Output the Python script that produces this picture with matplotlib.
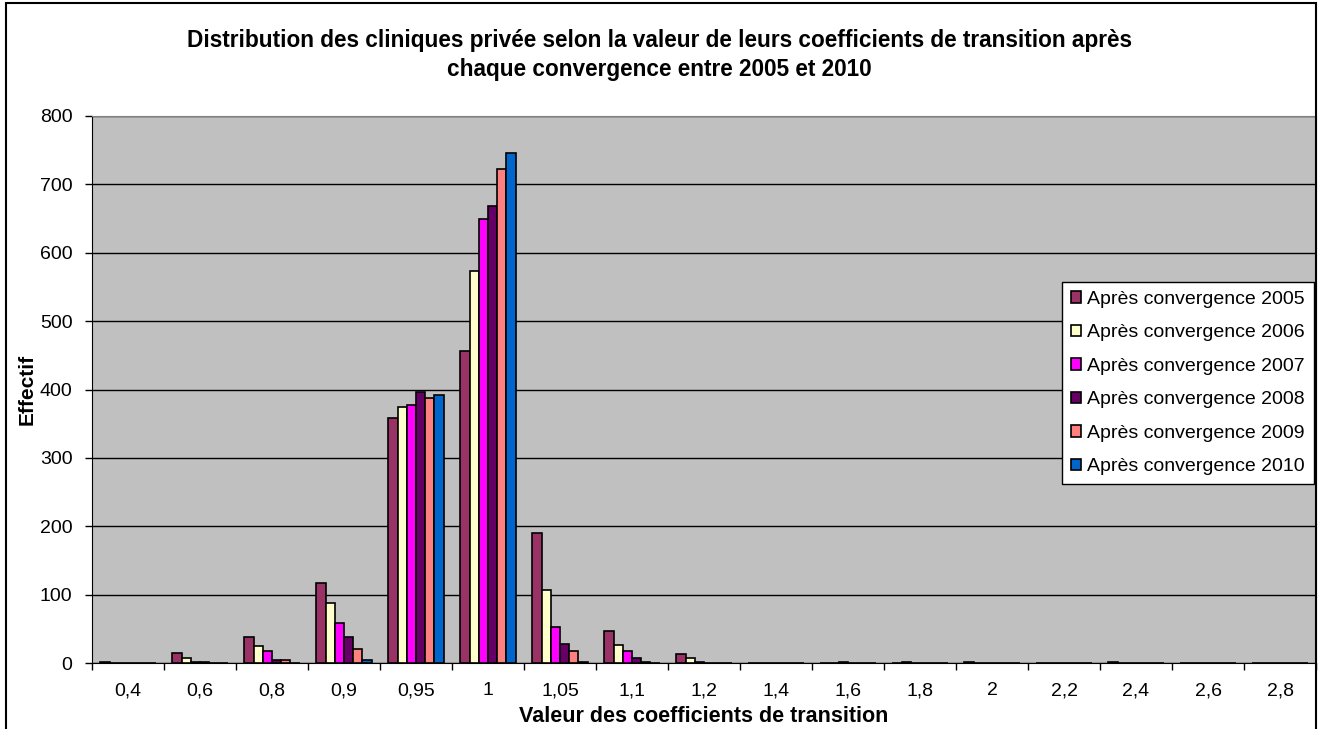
import numpy as np
import matplotlib
matplotlib.use("Agg")
import matplotlib.pyplot as plt
from matplotlib.patches import Rectangle

plt.rcParams["font.family"] = ["Liberation Sans", "DejaVu Sans"]

categories = ["0,4", "0,6", "0,8", "0,9", "0,95", "1", "1,05", "1,1", "1,2",
              "1,4", "1,6", "1,8", "2", "2,2", "2,4", "2,6", "2,8"]
v2005 = [2, 15, 38, 117, 359, 457, 190, 47, 13, 0, 0, 0, 2, 0, 2, 0, 0]
v2006 = [0, 8, 25, 88, 374, 574, 107, 26, 7, 0, 0, 2, 0, 0, 0, 0, 0]
v2007 = [0, 2, 18, 59, 377, 650, 52, 18, 2, 0, 2, 0, 0, 0, 0, 0, 0]
v2008 = [0, 2, 5, 38, 397, 668, 28, 8, 0, 0, 0, 0, 0, 0, 0, 0, 0]
v2009 = [0, 0, 5, 20, 387, 722, 18, 2, 0, 0, 0, 0, 0, 0, 0, 0, 0]
v2010 = [0, 0, 0, 5, 392, 746, 2, 0, 0, 0, 0, 0, 0, 0, 0, 0, 0]

series = [
    ("Après convergence 2005", v2005, "#993366"),
    ("Après convergence 2006", v2006, "#FFFFCC"),
    ("Après convergence 2007", v2007, "#FF00FF"),
    ("Après convergence 2008", v2008, "#660066"),
    ("Après convergence 2009", v2009, "#FF8080"),
    ("Après convergence 2010", v2010, "#0066CC"),
]

W, H = 1319, 729
fig = plt.figure(figsize=(W / 100, H / 100), dpi=100)
ax = fig.add_axes([92 / W, 1 - 663 / H, 1224 / W, 547 / H])
ax.set_facecolor("#C0C0C0")

x = np.arange(len(categories))
width = 0.128
for i, (label, vals, color) in enumerate(series):
    ax.bar(x + (i - 2.5) * width, vals, width, color=color, edgecolor="black",
           linewidth=1.2, label=label, zorder=3)

ax.set_xlim(-0.5, len(categories) - 0.5)
ax.set_ylim(0, 800)
ax.set_yticks(range(0, 801, 100))
ax.grid(axis="y", color="black", linewidth=1, zorder=1)

# category boundaries as tick marks, labels centred under each group
ax.set_xticks(np.arange(-0.5, len(categories), 1))
ax.set_xticklabels([])
ax.set_xticks(x, minor=True)
ax.set_xticklabels(categories, minor=True)
ax.tick_params(axis="x", which="major", length=5, width=1)
ax.tick_params(axis="x", which="minor", length=0, labelsize=14, pad=14)
ax.tick_params(axis="y", length=5, width=1, labelsize=14, pad=9)

for side in ["top", "right"]:
    ax.spines[side].set_color("#808080")
for side in ["left", "bottom"]:
    ax.spines[side].set_color("black")

ax.set_ylabel("Effectif", fontsize=15, fontweight="bold")
ax.yaxis.set_label_coords(-0.0453, 0.5)
ax.set_xlabel("Valeur des coefficients de transition", fontsize=15.5,
              fontweight="bold")
ax.xaxis.set_label_coords(0.5, -0.079)

fig.text(0.5, 1 - 55 / H,
         "Distribution des cliniques privée selon la valeur de leurs coefficients de transition après\n"
         "chaque convergence entre 2005 et 2010",
         ha="center", va="center", fontsize=16.3, fontweight="bold", linespacing=1.3)

leg = ax.legend(loc="upper left", bbox_to_anchor=(1062 / W, 1 - 282 / H),
                bbox_transform=fig.transFigure, fontsize=14, frameon=True,
                fancybox=False, edgecolor="black", framealpha=1,
                handlelength=0.55, handleheight=0.55, handletextpad=0.3,
                labelspacing=0.85, borderpad=0.45, borderaxespad=0)
leg.get_frame().set_linewidth(1)

fig.patches.append(Rectangle((6 / W, -0.1), 1310 / W, 1.1 - 3 / H,
                             transform=fig.transFigure, fill=False,
                             edgecolor="black", linewidth=1.5))

fig.savefig("out.png", dpi=100)
